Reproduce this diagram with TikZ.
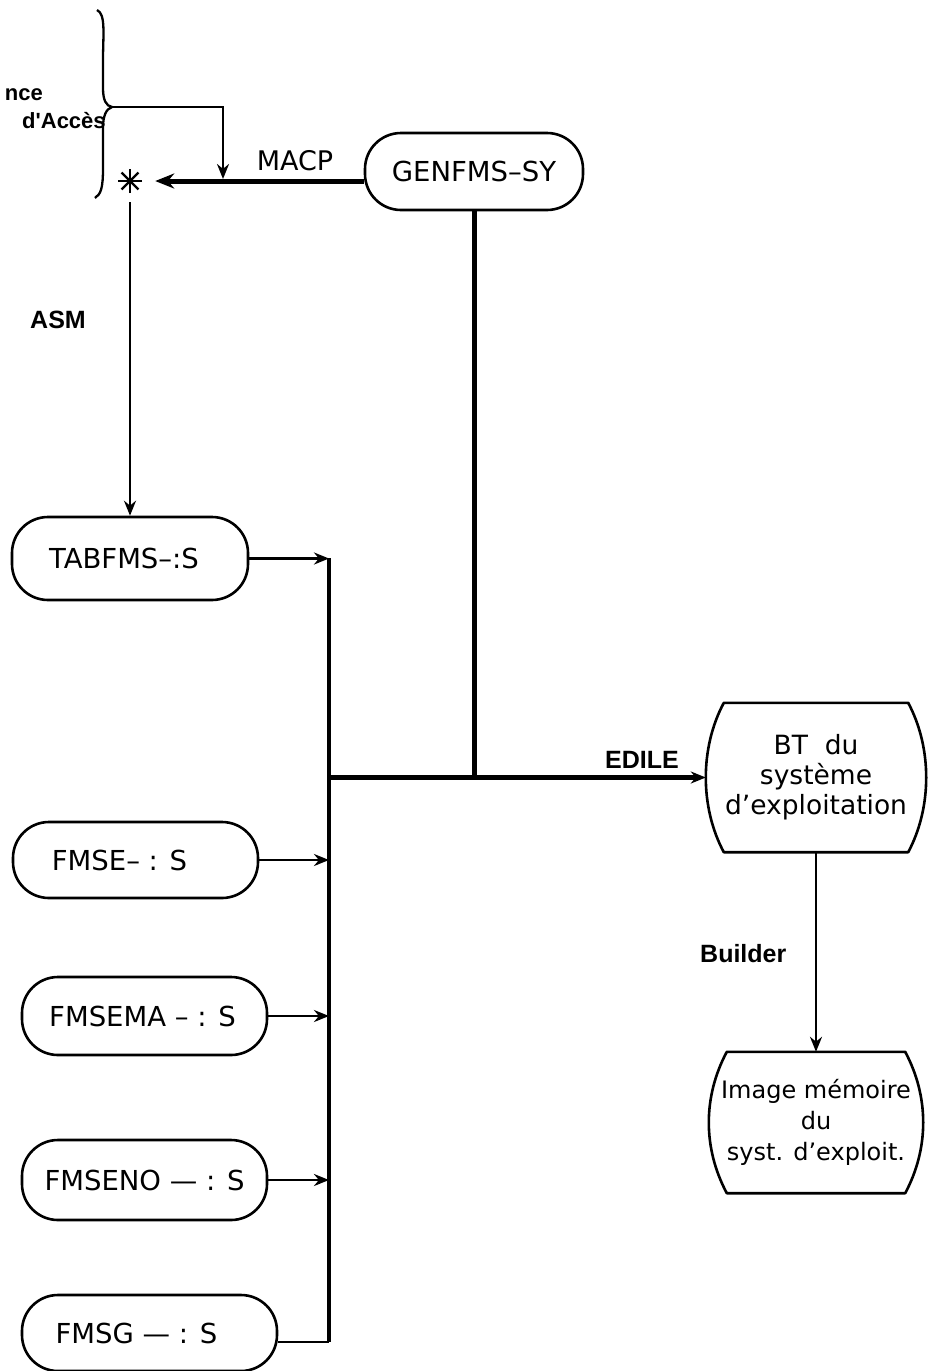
\documentclass[tikz,border=0pt]{standalone}
\usepackage{fontspec}
\newfontfamily\boxfont{DejaVu Sans}
\newfontfamily\labfont{Liberation Sans}
\usetikzlibrary{arrows.meta,calc}

% barrel-shaped store: flat top and bottom, sides bowed outwards
\newcommand\barrel[1]{%
  \draw[outline]
    ([xshift=18pt]#1.north west) -- ([xshift=-18pt]#1.north east)
    .. controls +(24,45) and +(24,-45) .. ([xshift=-18pt]#1.south east)
    -- ([xshift=18pt]#1.south west)
    .. controls +(-24,-45) and +(-24,45) .. ([xshift=18pt]#1.north west) -- cycle;}

\begin{document}
\begin{tikzpicture}[x=1pt,y=-1pt,
  outline/.style={line width=2.6pt, line join=round},
  stadium/.style={draw, outline, rounded corners=36pt, inner sep=0pt,
    font=\boxfont\fontsize{27.5}{30}\selectfont},
  store/.style={inner sep=0pt, align=center,
    font=\boxfont\fontsize{26.5}{30}\selectfont},
  lbl/.style={inner sep=0pt, font=\labfont\bfseries\fontsize{25}{28}\selectfont},
  side/.style={inner sep=0pt, font=\labfont\bfseries\fontsize{22}{26}\selectfont},
  heavy/.style={line width=5pt},
  medium/.style={line width=3.5pt},
  light/.style={line width=2.8pt},
  fine/.style={line width=2.3pt},
  bigtip/.style={-{Stealth[length=19pt,width=15pt]}},
  tip/.style={-{Stealth[length=15pt,width=12pt]}},
]
\useasboundingbox (0,0) rectangle (928,1371);

% ---- generator and the access-method brace
\node[stadium, minimum width=218pt, minimum height=77pt] (gen) at (474,171.5) {GENFMS–SY};

\node[inner sep=0pt, minimum size=24pt] (star) at (130,181) {};
\foreach \a in {0,45,90,135}
  \draw[line width=2.2pt] (star.center) ++(\a:12) -- ++({\a+180}:24);

\draw[fine] (97,10) .. controls (106,14) and (103,35) .. (103,60)
  -- (103,88) .. controls (103,100) and (106,106) .. (112,107) coordinate (btip)
  .. controls (106,109) and (103,116) .. (103,128)
  -- (103,168) .. controls (103,188) and (101,194) .. (95,198);
\node[side, anchor=base east] (nce) at (43,100) {nce};
\node[side, anchor=base west] (acc) at (22,128) {d'Acc\`es};

\coordinate (drop) at (223,179);
\draw[fine, tip] (btip) -| (drop);

\draw[heavy, bigtip, shorten >=13pt] (star -| gen.west) -- (star);
\node[inner sep=0pt, anchor=base, font=\boxfont\fontsize{27}{30}\selectfont] (macp) at (295,170) {MACP};

% ---- source modules (trailing kerns set the text a little left of centre)
\node[stadium, minimum width=236pt, minimum height=83pt] (tab) at (130,558.5) {TABFMS–:S\kern12pt};
\node[stadium, minimum width=245pt, minimum height=76pt] (fmse) at (135.5,860) {FMSE– : S\kern32pt};
\node[stadium, minimum width=245pt, minimum height=78pt] (fmsema) at (144.5,1016) {FMSEMA – : S\kern4pt};
\node[stadium, minimum width=245pt, minimum height=80pt] (fmseno) at (144.5,1180) {FMSENO — : S};
\node[stadium, minimum width=255pt, minimum height=76pt] (fmsg) at (149.5,1333) {FMSG — : S\kern26pt};

\draw[fine, tip, shorten <=9pt] (star) -- (tab);
\node[lbl, anchor=base west] (asm) at (30,328) {ASM};

% ---- collecting bus
\coordinate (bustop) at (329,558);
\coordinate (busbot) at (329,1342);
\draw[medium] (bustop) -- (busbot);
\foreach \m in {tab,fmse,fmsema,fmseno}
  \draw[light, tip] (\m.east) -- (\m.east -| bustop);
\draw[light] (fmsg.east |- busbot) -- (busbot);

% ---- link editor and builder
\node[store, minimum width=220pt, minimum height=149pt] (bt) at (816,777.5)
  {BT\ \ du\\syst\`eme\\d’exploitation};
\barrel{bt}
\node[store, minimum width=214pt, minimum height=141pt,
  font=\boxfont\fontsize{24}{31}\selectfont] (img) at (816,1122.5)
  {Image m\'emoire\\du\\syst. d’exploit.};
\barrel{img}

\coordinate (join) at (gen.south |- bt.west);
\draw[heavy] (gen.south) -- (join);
\draw[heavy, tip] (bt.west -| bustop) -- (bt.west);
\node[lbl, anchor=base west] (edile) at (605,768) {EDILE};

\draw[fine, tip] (bt.south) -- (img.north);
\node[lbl, anchor=base west] (builder) at (700,962) {Builder};
\end{tikzpicture}
\end{document}
